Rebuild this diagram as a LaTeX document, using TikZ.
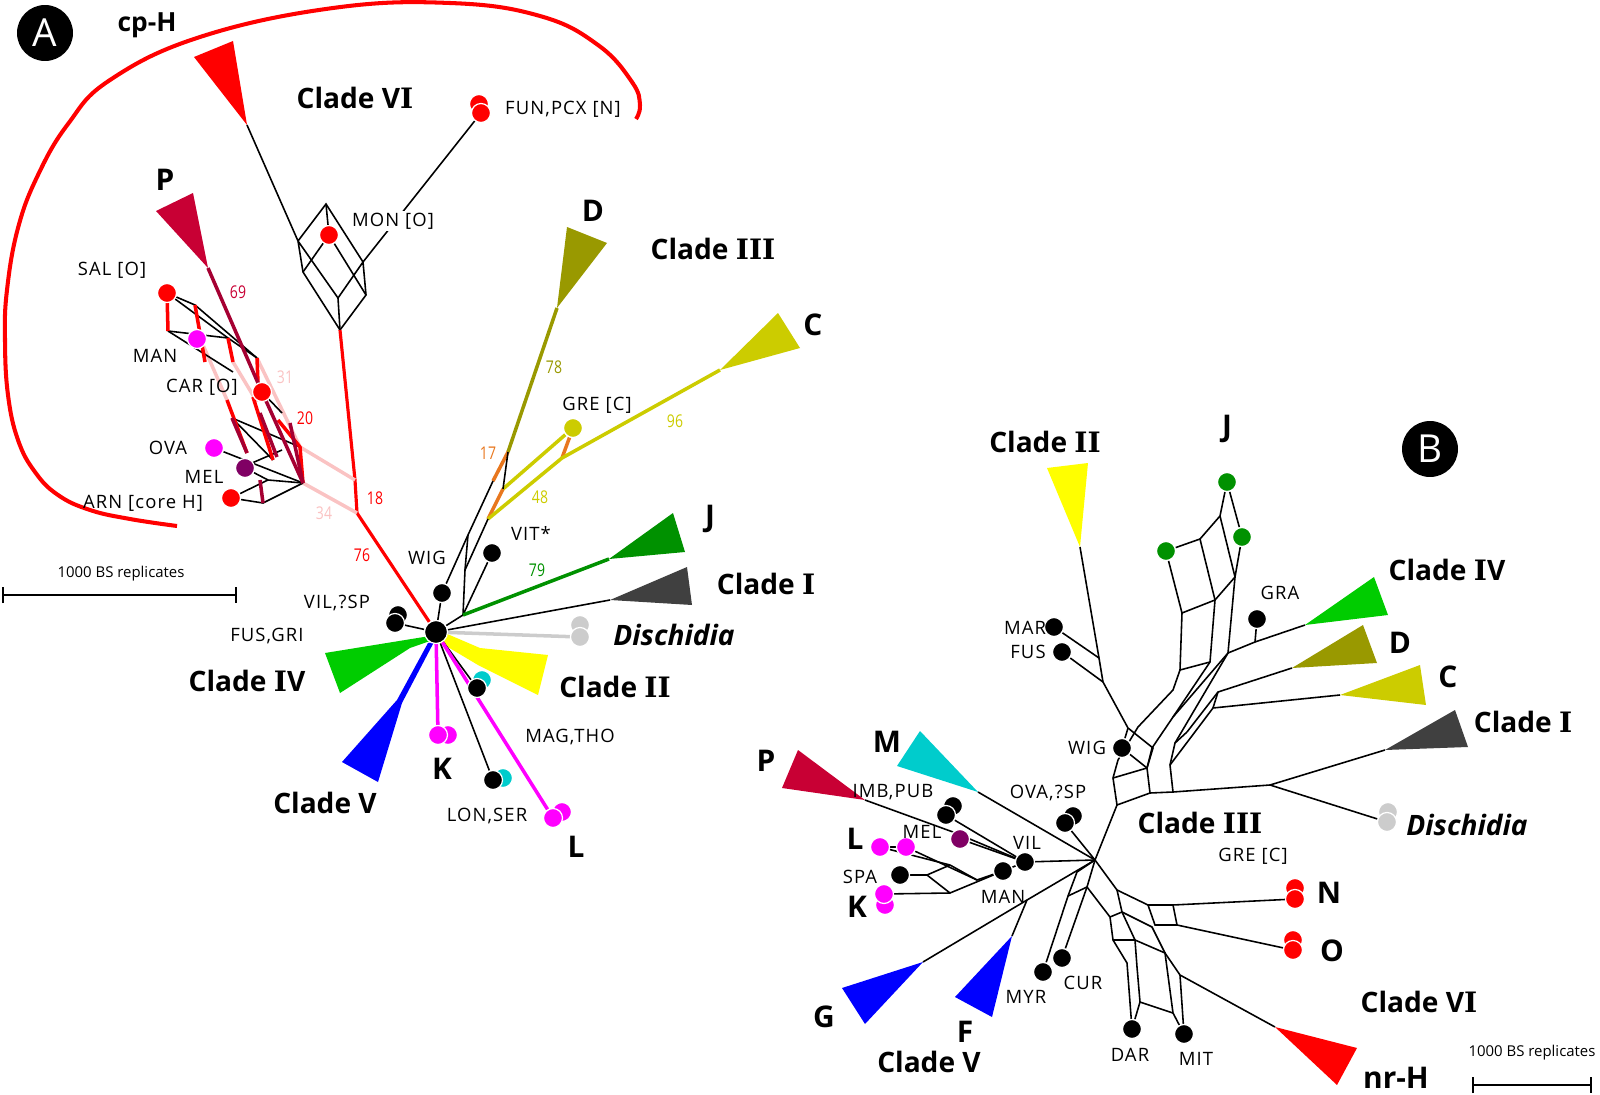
\documentclass[tikz,border=0pt]{standalone}
\usepackage{fontspec}
\setmainfont{Open Sans}
\newfontfamily\lblfont{Open Sans}[LetterSpace=6]
\newfontfamily\numfont{DejaVu Serif}
\usepackage{tikz}
\usetikzlibrary{backgrounds,arrows.meta}

\definecolor{cpred}{RGB}{255,0,0}
\definecolor{crim}{RGB}{200,0,52}
\definecolor{dcrim}{RGB}{165,0,50}
\definecolor{pinkbs}{RGB}{250,195,195}
\definecolor{magen}{RGB}{255,0,255}
\definecolor{plum}{RGB}{128,0,100}
\definecolor{oliveD}{RGB}{153,153,0}
\definecolor{yelC}{RGB}{204,204,0}
\definecolor{greenJ}{RGB}{0,145,0}
\definecolor{greenIV}{RGB}{0,204,0}
\definecolor{grayI}{RGB}{64,64,64}
\definecolor{grayD}{RGB}{204,204,204}
\definecolor{yelII}{RGB}{255,255,0}
\definecolor{blueV}{RGB}{0,0,255}
\definecolor{tealM}{RGB}{0,204,204}
\definecolor{orangebs}{RGB}{232,119,30}

\newcommand\romI{{\numfont I}}

\begin{document}
\begin{tikzpicture}[x=0.02cm,y=-0.02cm,
  leaf/.style={circle,draw=white,line width=0.7pt,inner sep=0pt,minimum size=0.38cm},
  taxon/.style={font=\lblfont\fontsize{10.5}{12}\selectfont,inner sep=1pt},
  clade/.style={font=\bfseries\fontsize{16}{18}\selectfont,inner sep=0pt},
  grp/.style={font=\bfseries\fontsize{17}{19}\selectfont,inner sep=0pt},
  bs/.style={font=\fontsize{10}{12}\selectfont,xscale=0.8,inner sep=0pt},
  br/.style={line width=0.9pt},
  fat/.style={line width=2pt},
  panel/.style={circle,fill=black,text=white,minimum size=1.12cm,inner sep=0pt,font=\fontsize{22}{24}\selectfont},
  sbar/.style={line width=0.9pt,{Bar[width=0.32cm]}-{Bar[width=0.32cm]}}]
\useasboundingbox (0,0) rectangle (1600,1095);

%%%%% panel A
\draw (45,33) node[panel] (labA) {A};
\draw (147,25) node[font=\bfseries\fontsize{15}{17}\selectfont] (cpH) {cp-H};
\draw[cpred,line width=2.3pt] plot[smooth,tension=0.7] coordinates {(177,526) (130,519) (90,510) (58,495) (35,472) (18,440) (8,395) (5,340) (7,290) (18,228) (38,175) (68,124) (110,80) (200,37) (333,8) (450,3) (540,16) (598,45) (632,82) (640,105) (636,119)};

% dots
\draw (436,632) node[leaf,fill=black,minimum size=0.46cm] (ctrA) {};
\draw (329,235) node[leaf,fill=cpred] (monA) {};
\draw (479,104) node[leaf,fill=cpred] (fun1) {};
\draw (481,113) node[leaf,fill=cpred] (funA) {};
\draw (167,293) node[leaf,fill=cpred] (salA) {};
\draw (197,339) node[leaf,fill=magen] (manA) {};
\draw (262,392) node[leaf,fill=cpred] (carA) {};
\draw (214,448) node[leaf,fill=magen] (ovaA) {};
\draw (245,468) node[leaf,fill=plum] (melA) {};
\draw (231,498) node[leaf,fill=cpred] (arnA) {};
\draw (573,428) node[leaf,fill=yelC] (greA) {};
\draw (442,593) node[leaf,fill=black] (wigA) {};
\draw (492,553) node[leaf,fill=black] (vitA) {};
\draw (398,615) node[leaf,fill=black] (vil2) {};
\draw (395,623) node[leaf,fill=black] (vilA) {};
\draw (580,625) node[leaf,fill=grayD] (dis2) {};
\draw (580,637) node[leaf,fill=grayD] (disA) {};
\draw (482,680) node[leaf,fill=tealM] (mag2) {};
\draw (477,688) node[leaf,fill=black] (magA) {};
\draw (448,735) node[leaf,fill=magen] (k2A) {};
\draw (438,735) node[leaf,fill=magen] (kA) {};
\draw (503,778) node[leaf,fill=tealM] (lon2) {};
\draw (493,780) node[leaf,fill=black] (lonA) {};
\draw (562,812) node[leaf,fill=magen] (l2A) {};
\draw (553,818) node[leaf,fill=magen] (lA) {};

% points of the networks
\coordinate (viA) at (247,125);
\coordinate (m1) at (298,241); \coordinate (m2) at (326,204);
\coordinate (m3) at (363,262); \coordinate (m4) at (338,298);
\coordinate (m5) at (303,272); \coordinate (m6) at (366,295);
\coordinate (mb) at (340,330);
\coordinate (j1) at (355,480); \coordinate (j2) at (357,513);
\coordinate (pA) at (208,268); \coordinate (pz) at (303,483); \coordinate (pq) at (300,447);
\coordinate (p1) at (195,305); \coordinate (p2) at (228,338); \coordinate (p3) at (257,358);
\coordinate (p4) at (168,331); \coordinate (p5) at (233,372); \coordinate (p6) at (205,362);
\coordinate (p7) at (233,362); \coordinate (p8) at (258,383); \coordinate (p9) at (232,418);
\coordinate (p10) at (227,400); \coordinate (p11) at (253,397); \coordinate (p12) at (273,460);
\coordinate (p13) at (282,413); \coordinate (p14) at (278,420); \coordinate (p15) at (247,453);
\coordinate (p16) at (252,463); \coordinate (p17) at (282,450); \coordinate (p18) at (268,480);
\coordinate (p19) at (263,503); \coordinate (p20) at (260,480); \coordinate (p21) at (203,345);
\coordinate (p22) at (257,402); \coordinate (p23) at (290,423); \coordinate (p24) at (260,413);
\coordinate (p25) at (277,457);
\coordinate (dA) at (557,308); \coordinate (cA) at (720,370);
\coordinate (k1) at (493,481); \coordinate (k2) at (508,452); \coordinate (k3) at (488,519);
\coordinate (k4) at (468,535); \coordinate (k5) at (465,570); \coordinate (k6) at (463,615);
\coordinate (g1) at (562,458); \coordinate (g2) at (503,489);
\coordinate (jA) at (609,559); \coordinate (iA) at (610,600);

\begin{scope}[on background layer]
  \fill[cpred] (194,57) -- (233,41) -- (viA) -- cycle;
  \fill[crim] (156,211) -- (193,193) -- (pA) -- cycle;
  \fill[oliveD] (567,227) -- (607,243) -- (dA) -- cycle;
  \fill[yelC] (778,313) -- (800,348) -- (cA) -- cycle;
  \fill[greenJ] (673,513) -- (685,552) -- (jA) -- cycle;
  \fill[grayI] (687,567) -- (692,605) -- (iA) -- cycle;
  \fill[yelII] (438,630) -- (480,648) -- (548,655) -- (538,695) -- (478,665) -- (436,640) -- cycle;
  \fill[greenIV] (430,636) -- (325,653) -- (340,693) -- (410,648) -- (430,641) -- cycle;
  \fill[blueV] (434,642) -- (402,703) -- (378,782) -- (342,762) -- (397,700) -- (428,643) -- cycle;
  % Clade VI network
  \draw[br] (viA) -- (m1) -- (m2) -- (m3) -- (m4) -- (m1) -- (m5) -- (mb) -- (m6) -- (m3);
  \draw[br] (m4) -- (mb);
  \draw[br] (m2) -- (monA) -- (m5);
  \draw[br] (monA) -- (m6);
  \draw[br] (m3) -- (funA);
  \draw[cpred,line width=1.8pt] (mb) -- (j1) -- (j2) -- (ctrA);
  % P network
  \draw[pinkbs,fat] (p21) -- (p10);
  \draw[pinkbs,fat] (p7) -- (p22);
  \draw[pinkbs,fat] (p3) -- (pq) -- (j1);
  \draw[pinkbs,fat] (pz) -- (j2);
  \draw[br] (salA) -- (p1) -- (p3);
  \draw[br] (salA) -- (p2) -- (p3);
  \draw[br] (p4) -- (p2);
  \draw[br] (p4) -- (p5);
  \draw[br] (carA) -- (p13);
  \draw[br] (p9) -- (pq);
  \draw[br] (p9) -- (p12);
  \draw[br] (ovaA) -- (pz);
  \draw[br] (p16) -- (p17);
  \draw[br] (melA) -- (p18) -- (pz);
  \draw[br] (arnA) -- (p18);
  \draw[br] (arnA) -- (p19) -- (pz);
  \draw[cpred,fat] (salA) -- (p4);
  \draw[cpred,fat] (p1) -- (p6);
  \draw[cpred,fat] (p2) -- (p7);
  \draw[cpred,fat] (p3) -- (p8);
  \draw[cpred,fat] (p11) -- (p12);
  \draw[cpred,fat] (p14) -- (pq) -- (pz);
  \draw[cpred,fat] (p10) -- (p15);
  \draw[dcrim,fat] (pA) -- (p8) -- (pz);
  \draw[dcrim,fat] (p9) -- (p15);
  \draw[dcrim,fat] (p20) -- (p19);
  \draw[dcrim,fat] (p24) -- (p25);
  \draw[dcrim,fat] (p23) -- (pz);
  % Clade III and the rest
  \draw[oliveD,fat] (dA) -- (k2);
  \draw[orangebs,fat] (k2) -- (k1);
  \draw[orangebs,fat] (g2) -- (k3);
  \draw[orangebs,fat] (greA) -- (g1);
  \draw[yelC,fat] (cA) -- (g1) -- (k3);
  \draw[yelC,fat] (greA) -- (g2);
  \draw[br] (k2) -- (g2);
  \draw[br] (k1) -- (k4) -- (wigA);
  \draw[br] (k3) -- (k5) -- (k6);
  \draw[br] (k4) -- (k5);
  \draw[br] (vitA) -- (k6);
  \path[br] (wigA) edge (ctrA) (k6) edge (ctrA);
  \draw[greenJ,fat] (k6) -- (jA);
  \path[br] (ctrA) edge (iA) edge (magA) edge (lonA) edge (vilA);
  \draw[grayD,fat] (ctrA) -- (disA);
  \draw[magen,fat] (ctrA) -- (kA);
  \draw[magen,fat] (ctrA) -- (lA);
\end{scope}

% labels A
\draw (355,98) node[clade] (c6A) {Clade V\romI};
\draw (393,221) node[taxon,fill=white] (monL) {MON [O]};
\draw (563,109) node[taxon] (funL) {FUN,PCX [N]};
\draw (165,180) node[grp] (pL) {P};
\draw (112,270) node[taxon] (salL) {SAL [O]};
\draw (155,356) node[taxon] (manL) {MAN};
\draw (202,387) node[taxon] (carL) {CAR [O]};
\draw (168,448) node[taxon] (ovaL) {OVA};
\draw (204,477) node[taxon] (melL) {MEL};
\draw (143,503) node[taxon] (arnL) {ARN [core H]};
\draw (238,292) node[bs,text=crim] (b69) {69};
\draw (285,377) node[bs,text=pinkbs] (b31) {31};
\draw (305,418) node[bs,text=cpred] (b20) {20};
\draw (375,498) node[bs,text=cpred] (b18) {18};
\draw (324,513) node[bs,text=pinkbs] (b34) {34};
\draw (362,555) node[bs,text=cpred] (b76) {76};
\draw (554,367) node[bs,text=oliveD] (b78) {78};
\draw (675,421) node[bs,text=yelC] (b96) {96};
\draw (488,453) node[bs,text=orangebs] (b17) {17};
\draw (540,497) node[bs,text=yelC] (b48) {48};
\draw (537,570) node[bs,text=greenJ] (b79) {79};
\draw (593,211) node[grp] (dL) {D};
\draw (713,249) node[clade] (c3A) {Clade \romI\romI\romI};
\draw (813,325) node[grp] (cL) {C};
\draw (597,405) node[taxon] (greL) {GRE [C]};
\draw (427,558) node[taxon] (wigL) {WIG};
\draw (531,533) node[taxon] (vitL) {VIT*};
\draw (710,519) node[grp] (jL) {J};
\draw (766,584) node[clade] (c1A) {Clade \romI};
\draw (674,635) node[font=\bfseries\itshape\fontsize{16}{18}\selectfont] (disL) {Dischidia};
\draw (337,603) node[taxon] (vilL) {VIL,?SP};
\draw (267,636) node[taxon] (fgL) {FUS,GRI};
\draw (247,681) node[clade] (c4A) {Clade \romI V};
\draw (615,687) node[clade] (c2A) {Clade \romI\romI};
\draw (325,803) node[clade] (c5A) {Clade V};
\draw (442,769) node[grp] (kL) {K};
\draw (570,737) node[taxon] (magL) {MAG,THO};
\draw (487,816) node[taxon] (lonL) {LON,SER};
\draw (576,847) node[grp] (lL) {L};
% scale A
\coordinate (sa1) at (2,595); \coordinate (sa2) at (237,595);
\draw[sbar] (sa1) -- (sa2);
\draw (121,574) node[font=\fontsize{8.5}{10}\selectfont] (saL) {1000 BS replicates};

%%%%% panel B
\draw (1430,449) node[panel] (labB) {B};

% dots
\draw (1054,627) node[leaf,fill=black] (marB) {};
\draw (1062,652) node[leaf,fill=black] (fusB) {};
\draw (1122,748) node[leaf,fill=black] (wigB) {};
\draw (1257,619) node[leaf,fill=black] (graB) {};
\draw (1166,551) node[leaf,fill=greenJ] (gJ1) {};
\draw (1227,482) node[leaf,fill=greenJ] (gJ2) {};
\draw (1242,537) node[leaf,fill=greenJ] (gJ3) {};
\draw (1388,812) node[leaf,fill=grayD] (disB2) {};
\draw (1387,822) node[leaf,fill=grayD] (disB) {};
\draw (1295,888) node[leaf,fill=cpred] (nB2) {};
\draw (1295,899) node[leaf,fill=cpred] (nB) {};
\draw (1293,940) node[leaf,fill=cpred] (oB2) {};
\draw (1293,950) node[leaf,fill=cpred] (oB) {};
\draw (953,806) node[leaf,fill=black] (imbB2) {};
\draw (946,815) node[leaf,fill=black] (imbB) {};
\draw (960,839) node[leaf,fill=plum] (melB) {};
\draw (1025,862) node[leaf,fill=black] (vilB) {};
\draw (1003,871) node[leaf,fill=black] (manB) {};
\draw (880,847) node[leaf,fill=magen] (lLB) {};
\draw (906,847) node[leaf,fill=magen] (lRB) {};
\draw (900,875) node[leaf,fill=black] (spaB) {};
\draw (885,905) node[leaf,fill=magen] (kB2) {};
\draw (884,894) node[leaf,fill=magen] (kB) {};
\draw (1073,816) node[leaf,fill=black] (ovaB2) {};
\draw (1065,823) node[leaf,fill=black] (ovaB) {};
\draw (1043,972) node[leaf,fill=black] (myrB) {};
\draw (1062,958) node[leaf,fill=black] (curB) {};
\draw (1132,1029) node[leaf,fill=black] (darB) {};
\draw (1184,1034) node[leaf,fill=black] (mitB) {};

% points
\coordinate (cb) at (1095,860);
\coordinate (c2B) at (1080,547);
\coordinate (q1) at (1099,658); \coordinate (q2) at (1103,682);
\coordinate (q3) at (1128,728); \coordinate (q4) at (1153,748);
\coordinate (L1) at (1118,760); \coordinate (L2) at (1113,778); \coordinate (L3) at (1117,805);
\coordinate (L4) at (1150,793); \coordinate (L5) at (1147,768); \coordinate (L6) at (1173,792);
\coordinate (L7) at (1170,765); \coordinate (L8) at (1175,743); \coordinate (L9) at (1187,732);
\coordinate (L10) at (1152,748); \coordinate (L11) at (1138,727);
\coordinate (U1) at (1173,690); \coordinate (U2) at (1180,670); \coordinate (U3) at (1182,613);
\coordinate (U5) at (1210,662); \coordinate (U6) at (1215,600); \coordinate (U7) at (1200,539);
\coordinate (U8) at (1220,516); \coordinate (U9) at (1228,653); \coordinate (U10) at (1235,577);
\coordinate (U11) at (1255,642); \coordinate (U12) at (1173,717); \coordinate (U13) at (1218,692);
\coordinate (U14) at (1213,708);
\coordinate (ivB) at (1305,625); \coordinate (dB) at (1292,668); \coordinate (cB) at (1340,695);
\coordinate (iB) at (1385,750); \coordinate (jB) at (1270,785);
\coordinate (R1) at (1117,890); \coordinate (R2) at (1148,905); \coordinate (R3) at (1173,905);
\coordinate (R4) at (1155,925); \coordinate (R5) at (1177,925); \coordinate (R7) at (1087,887);
\coordinate (R8) at (1110,917); \coordinate (R9) at (1113,940); \coordinate (R10) at (1127,963);
\coordinate (R11) at (1122,912); \coordinate (R12) at (1135,940); \coordinate (R13) at (1137,967);
\coordinate (R14) at (1140,1002); \coordinate (R15) at (1152,927); \coordinate (R16) at (1165,953);
\coordinate (R17) at (1180,975); \coordinate (R18) at (1173,1013);
\coordinate (T1) at (1077,872); \coordinate (T2) at (1068,896);
\coordinate (nrB) at (1275,1027);
\coordinate (mB) at (978,792); \coordinate (pB) at (865,800); \coordinate (u1) at (953,832);
\coordinate (gB) at (923,962); \coordinate (fJ) at (1027,900); \coordinate (fB) at (1012,936);
\coordinate (w1) at (950,865); \coordinate (w2) at (927,875); \coordinate (w3) at (950,893);
\coordinate (w4) at (977,880);

\begin{scope}[on background layer]
  \fill[yelII] (1047,468) -- (1088,463) -- (c2B) -- cycle;
  \fill[greenIV] (ivB) -- (1374,577) -- (1388,615) -- cycle;
  \fill[oliveD] (dB) -- (1363,625) -- (1377,663) -- cycle;
  \fill[yelC] (cB) -- (1420,665) -- (1426,705) -- cycle;
  \fill[grayI] (iB) -- (1455,710) -- (1468,747) -- cycle;
  \fill[tealM] (920,731) -- (897,766) -- (mB) -- cycle;
  \fill[crim] (798,750) -- (782,788) -- (pB) -- cycle;
  \fill[blueV] (842,988) -- (865,1024) -- (gB) -- cycle;
  \fill[blueV] (fB) -- (955,997) -- (992,1017) -- cycle;
  \fill[cpred] (nrB) -- (1357,1048) -- (1337,1085) -- cycle;
  % upper network
  \draw[br] (c2B) -- (q1) -- (q2) -- (q3) -- (q4) -- (L5);
  \path[br] (marB) edge (q1) (fusB) edge (q2) (wigB) edge (q3) (wigB) edge (L5);
  \draw[br] (cb) -- (L3) -- (L2) -- (L1) -- (L11) -- (U1) -- (U2) -- (U3) -- (gJ1);
  \draw[br] (L2) -- (L5) -- (L4) -- (L3);
  \draw[br] (L4) -- (L6) -- (L7) -- (L8) -- (L9);
  \draw[br] (L5) -- (L10) -- (U12) -- (U9) -- (U11) -- (ivB);
  \draw[br] (U12) -- (U5) -- (U6) -- (U7) -- (U8) -- (gJ2) -- (gJ3);
  \draw[br] (U7) -- (gJ1);
  \draw[br] (L8) -- (U9) -- (U10) -- (gJ3);
  \draw[br] (U2) -- (U5);
  \draw[br] (U3) -- (U6) -- (U10) -- (U8);
  \draw[br] (U11) -- (graB);
  \draw[br] (dB) -- (U13) -- (L9);
  \draw[br] (cB) -- (U14) -- (L7);
  \draw[br] (U13) -- (U14);
  \draw[br] (L6) -- (jB) -- (iB);
  \draw[br] (jB) -- (disB);
  % lower network
  \draw[br] (cb) -- (R1) -- (R2) -- (R3) -- (nB);
  \draw[br] (R2) -- (R4) -- (R5) -- (R3);
  \draw[br] (R5) -- (oB);
  \draw[br] (cb) -- (R7) -- (R8) -- (R9) -- (R10) -- (darB);
  \draw[br] (R1) -- (R11) -- (R12) -- (R13) -- (R14) -- (darB);
  \draw[br] (R11) -- (R15) -- (R16) -- (R17) -- (nrB);
  \draw[br] (R12) -- (R16) -- (R18) -- (mitB);
  \draw[br] (R14) -- (R18);
  \draw[br] (R17) -- (mitB);
  \draw[br] (R8) -- (R11);
  \draw[br] (R9) -- (R12);
  \draw[br] (cb) -- (T1) -- (T2) -- (myrB);
  \draw[br] (R7) -- (curB);
  \draw[br] (T2) -- (R7);
  % left side
  \draw[br] (mB) -- (cb);
  \draw[br] (pB) -- (u1) -- (vilB);
  \path[br] (melB) edge (vilB) (imbB) edge (vilB) (manB) edge (vilB) (vilB) edge (cb) (ovaB) edge (cb);
  \draw[br] (cb) -- (fJ) -- (gB);
  \draw[br] (fJ) -- (fB);
  \draw[br] (lLB) -- (lRB);
  \draw[br] (lRB) -- (w4) -- (manB);
  \draw[br] (lLB) -- (w1) -- (w4);
  \draw[br] (spaB) -- (w2) -- (w1);
  \draw[br] (w2) -- (w3) -- (manB);
  \draw[br] (kB) -- (w3);
\end{scope}

% labels B
\draw (1045,442) node[clade] (c2BL) {Clade \romI\romI};
\draw (1227,429) node[grp] (jBL) {J};
\draw (1447,570) node[clade] (c4B) {Clade \romI V};
\draw (1280,593) node[taxon] (graL) {GRA};
\draw (1400,643) node[grp] (dBL) {D};
\draw (1448,677) node[grp] (cBL) {C};
\draw (1523,722) node[clade] (c1B) {Clade \romI};
\draw (1467,825) node[font=\bfseries\itshape\fontsize{16}{18}\selectfont] (disBL) {Dischidia};
\draw (1025,628) node[taxon] (marL) {MAR};
\draw (1028,652) node[taxon] (fusL) {FUS};
\draw (1087,748) node[taxon] (wigBL) {WIG};
\draw (887,742) node[grp] (mL) {M};
\draw (766,761) node[grp] (pBL) {P};
\draw (893,792) node[taxon] (imbL) {IMB,PUB};
\draw (1048,793) node[taxon] (ovaBL) {OVA,?SP};
\draw (855,839) node[grp] (lBL) {L};
\draw (922,832) node[taxon] (melBL) {MEL};
\draw (1027,843) node[taxon] (vilBL) {VIL};
\draw (860,877) node[taxon] (spaL) {SPA};
\draw (857,907) node[grp] (kBL) {K};
\draw (1003,897) node[taxon] (manBL) {MAN};
\draw (1200,823) node[clade] (c3B) {Clade \romI\romI\romI};
\draw (1253,856) node[taxon] (greBL) {GRE [C]};
\draw (1329,893) node[grp] (nL) {N};
\draw (1332,951) node[grp] (oL) {O};
\draw (1419,1002) node[clade] (c6B) {Clade V\romI};
\draw (1396,1078) node[grp] (nrL) {nr-H};
\draw (824,1017) node[grp] (gL) {G};
\draw (965,1032) node[grp] (fL) {F};
\draw (929,1062) node[clade] (c5B) {Clade V};
\draw (1026,997) node[taxon] (myrL) {MYR};
\draw (1083,983) node[taxon] (curL) {CUR};
\draw (1130,1055) node[taxon] (darL) {DAR};
\draw (1196,1059) node[taxon] (mitL) {MIT};
% scale B
\coordinate (sb1) at (1472,1085); \coordinate (sb2) at (1592,1085);
\draw[sbar] (sb1) -- (sb2);
\draw (1532,1053) node[font=\fontsize{8.5}{10}\selectfont] (sbL) {1000 BS replicates};
\end{tikzpicture}
\end{document}
